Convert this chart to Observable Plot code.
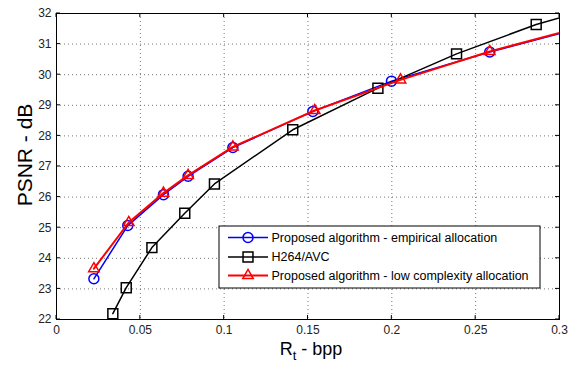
<!DOCTYPE html>
<html><head><meta charset="utf-8">
<script src="https://cdn.jsdelivr.net/npm/d3@7"></script>
<script src="https://cdn.jsdelivr.net/npm/@observablehq/plot@0.6"></script>
<style>
body{margin:0;background:#fff;}
#wrap{position:relative;width:568px;height:366px;font-family:"Liberation Sans",Arial,sans-serif;}
</style></head><body><div id="wrap"></div>
<script>
const xTicks = [0, 0.05, 0.1, 0.15, 0.2, 0.25, 0.3];
const yTicks = [22, 23, 24, 25, 26, 27, 28, 29, 30, 31, 32];
const seriesNames = ["Proposed algorithm - empirical allocation", "H264/AVC", "Proposed algorithm - low complexity allocation"];
const seriesColors = ["#0000ff", "#000000", "#ff0000"];
const seriesSymbols = ["circle", "square", "triangle"];
const empX = [0.0223, 0.0425, 0.0638, 0.0785, 0.1052, 0.1529, 0.1998, 0.2584, 0.312];
const empY = [23.33, 25.07, 26.08, 26.68, 27.62, 28.80, 29.79, 30.74, 31.52];
const h264X = [0.0336, 0.0416, 0.0569, 0.0765, 0.0942, 0.1409, 0.1917, 0.2386, 0.2861, 0.33];
const h264Y = [22.19, 23.04, 24.35, 25.47, 26.43, 28.20, 29.56, 30.68, 31.64, 32.33];
const lowX = [0.0223, 0.0431, 0.0638, 0.0785, 0.1052, 0.1540, 0.2052, 0.2584, 0.312];
const lowY = [23.66, 25.17, 26.13, 26.71, 27.64, 28.83, 29.83, 30.76, 31.54];

const toRows = (xs, ys) => xs.map((x, i) => ({x, y: ys[i]}));
const series = [toRows(empX, empY), toRows(h264X, h264Y), toRows(lowX, lowY)];
const symSize = {circle: 5, square: 5.6, triangle: 3.9};

const marks = [
  Plot.gridX(xTicks, {stroke: "#555", strokeOpacity: 0.8, strokeDasharray: "1,3", strokeWidth: 1}),
  Plot.gridY(yTicks, {stroke: "#555", strokeOpacity: 0.8, strokeDasharray: "1,3", strokeWidth: 1}),
  Plot.axisX({ticks: xTicks, tickSize: 0, tickPadding: 6, tickFormat: d => `${d}`, fontSize: 12, fill: "#222", label: null}),
  Plot.axisY({ticks: yTicks, tickSize: 0, tickPadding: 5, tickFormat: d => `${d}`, fontSize: 12, fill: "#222", label: null}),
];
series.forEach((rows, i) => {
  marks.push(Plot.line(rows, {x: "x", y: "y", stroke: seriesColors[i], strokeWidth: i === 2 ? 2 : 1.5, clip: true}));
  marks.push(Plot.dot(rows, {x: "x", y: "y", symbol: () => seriesSymbols[i], r: symSize[seriesSymbols[i]], stroke: seriesColors[i], strokeWidth: 1.5, fill: "none", clip: true}));
});
marks.push(Plot.frame({stroke: "#000", strokeWidth: 1}));

const chart = Plot.plot({
  width: 568, height: 366,
  marginLeft: 56, marginRight: 9, marginTop: 13, marginBottom: 47,
  style: {fontFamily: "'Liberation Sans', Arial, sans-serif", fontSize: "12px", color: "#000", background: "#fff"},
  x: {domain: [0, 0.3], ticks: xTicks},
  y: {domain: [22, 32], ticks: yTicks},
  symbol: {type: "identity"},
  marks
});
document.getElementById("wrap").appendChild(chart);

const svg = d3.select(chart);
const xS = chart.scale("x"), yS = chart.scale("y");
const x0 = xS.apply(0), x1 = xS.apply(0.3), y0 = yS.apply(22), y1 = yS.apply(32);
// inward ticks
const tg = svg.append("g").attr("stroke", "#000").attr("stroke-width", 1);
xTicks.forEach(t => {
  const px = xS.apply(t);
  tg.append("line").attr("x1", px).attr("x2", px).attr("y1", y0).attr("y2", y0 - 4);
  tg.append("line").attr("x1", px).attr("x2", px).attr("y1", y1).attr("y2", y1 + 4);
});
yTicks.forEach(t => {
  const py = yS.apply(t);
  tg.append("line").attr("x1", x0).attr("x2", x0 + 4).attr("y1", py).attr("y2", py);
  tg.append("line").attr("x1", x1).attr("x2", x1 - 4).attr("y1", py).attr("y2", py);
});
// axis labels
const xl = svg.append("text").attr("x", 311).attr("y", 355).attr("text-anchor", "middle")
  .attr("font-size", 18).attr("fill", "#000");
xl.append("tspan").text("R");
xl.append("tspan").attr("font-size", 13).attr("dy", 5).text("t");
xl.append("tspan").attr("dy", -5).text(" - bpp");
svg.append("text").attr("transform", `translate(31.5,155) rotate(-90)`).attr("text-anchor", "middle")
  .attr("font-size", 21).attr("fill", "#000").text("PSNR - dB");
// legend
const lg = svg.append("g").attr("transform", "translate(219,226)");
lg.append("rect").attr("width", 321).attr("height", 62).attr("fill", "#fff").attr("stroke", "#000").attr("stroke-width", 1);
seriesNames.forEach((name, i) => {
  const cy = [11.5, 31, 49.5][i];
  lg.append("line").attr("x1", 9).attr("x2", 49).attr("y1", cy).attr("y2", cy)
    .attr("stroke", seriesColors[i]).attr("stroke-width", i === 2 ? 2 : 1.5);
  const sym = {circle: d3.symbolCircle, square: d3.symbolSquare, triangle: d3.symbolTriangle}[seriesSymbols[i]];
  const r = symSize[seriesSymbols[i]];
  lg.append("path").attr("transform", `translate(29,${cy})`).attr("d", d3.symbol(sym, Math.PI * r * r)())
    .attr("fill", "none").attr("stroke", seriesColors[i]).attr("stroke-width", 1.5);
  lg.append("text").attr("x", 52.5).attr("y", cy).attr("dy", "0.35em").attr("text-anchor", "start")
    .attr("font-size", 12.5).attr("fill", "#000").text(name);
});
</script></body></html>
